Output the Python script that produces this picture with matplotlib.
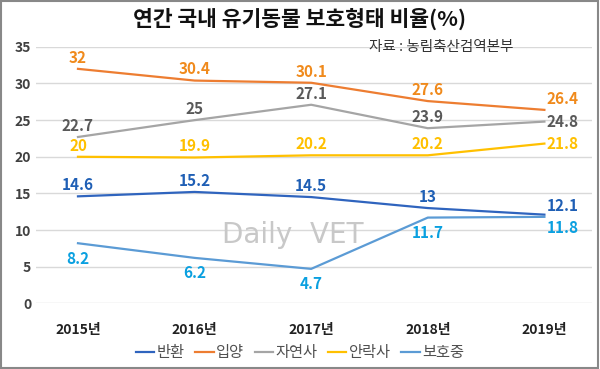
import matplotlib
matplotlib.use("Agg")
import matplotlib.pyplot as plt
from matplotlib.patches import Rectangle

plt.rcParams['font.family'] = ['Noto Sans CJK KR', 'DejaVu Sans']

years = ['2015년', '2016년', '2017년', '2018년', '2019년']
series_names = ['반환', '입양', '자연사', '안락사', '보호중']
returned = [14.6, 15.2, 14.5, 13, 12.1]
adopted = [32, 30.4, 30.1, 27.6, 26.4]
natural_death = [22.7, 25, 27.1, 23.9, 24.8]
euthanasia = [20, 19.9, 20.2, 20.2, 21.8]
in_care = [8.2, 6.2, 4.7, 11.7, 11.8]

line_colors = ['#2F64BE', '#ED7D31', '#A5A5A5', '#FFC000', '#5B9BD5']
label_colors = ['#1F5FB5', '#F08A1C', '#595959', '#FFC000', '#0AA0E0']
below = [False, False, False, False, True]
# vertical offset (points) of the last-year label, placed right of the point
last_dy = [6, 8, 0, 0, -8]

fig = plt.figure(figsize=(6, 3.69), dpi=100)
ax = fig.add_axes([0.06, 0.178, 0.927, 0.695])

x = list(range(len(years)))
all_series = [returned, adopted, natural_death, euthanasia, in_care]
for k, (vals, name, lc, tc, bl) in enumerate(zip(all_series, series_names,
                                                 line_colors, label_colors,
                                                 below)):
    ax.plot(x, vals, color=lc, lw=1.6, label=name, zorder=3)
    for i, v in enumerate(vals):
        if i == len(vals) - 1:
            ax.annotate(f'{v:g}', (i, v), xytext=(1.5, last_dy[k]),
                        textcoords='offset points', ha='left', va='center',
                        color=tc, fontsize=11, fontweight='bold', zorder=4)
        else:
            dy = -11 if bl else 8
            ax.annotate(f'{v:g}', (i, v), xytext=(0, dy),
                        textcoords='offset points', ha='center', va='center',
                        color=tc, fontsize=11, fontweight='bold', zorder=4)

ax.set_xlim(-0.36, 4.41)
ax.set_ylim(0, 35)
ax.set_yticks(range(0, 36, 5))
ax.set_xticks(x)
ax.set_xticklabels(years, fontweight='bold', fontsize=10)
ax.tick_params(axis='both', length=0, labelsize=10, colors='#222222')
ax.tick_params(axis='x', pad=14)
for lab in ax.get_yticklabels():
    lab.set_color('#404040')
    lab.set_fontweight('bold')
ax.grid(axis='y', color='#D9D9D9', lw=1)
ax.set_axisbelow(True)
for s in ax.spines.values():
    s.set_visible(False)

ax.text(1.84, 9.3, 'Daily  VET', ha='center', va='center', fontsize=20,
        family=['DejaVu Sans'], color='#C8C8C8', zorder=1)

fig.text(0.5, 0.95, '연간 국내 유기동물 보호형태 비율(%)', ha='center',
         va='center', fontsize=15.5, fontweight='bold', color='#111111')
fig.text(0.615, 0.872, '자료 : 농림축산검역본부', ha='left', va='center',
         fontsize=10.5, color='#333333')

fig.legend(loc='center', bbox_to_anchor=(0.5, 0.045), ncol=5, frameon=False,
           fontsize=11, handlelength=1.2, handletextpad=0.15, columnspacing=0.7,
           labelcolor='#505050')

fig.patches.append(Rectangle((0.002, 0.003), 0.995, 0.993, transform=fig.transFigure,
                             fill=False, edgecolor='#888888', lw=1.5))

fig.savefig('out.png', dpi=100)
